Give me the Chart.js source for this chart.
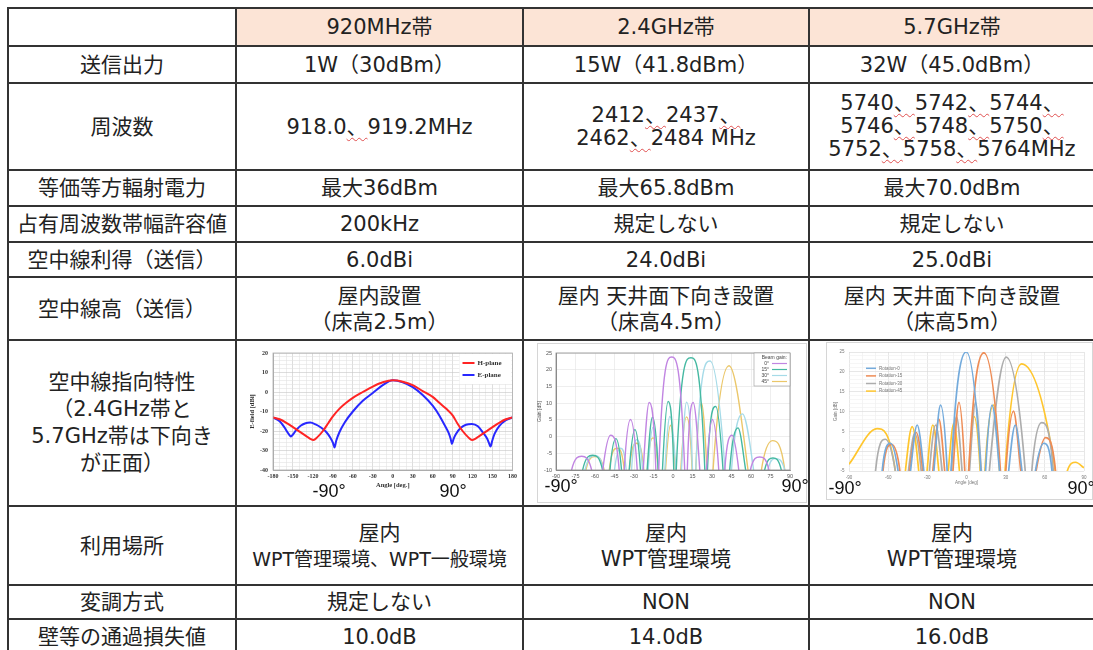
<!DOCTYPE html>
<html lang="ja">
<head>
<meta charset="utf-8">
<script src="https://cdn.jsdelivr.net/npm/chart.js@4.4.1/dist/chart.umd.min.js"></script>
<style>
html, body { margin: 0; padding: 0; background: #fff; overflow: hidden; width: 1093px; height: 650px; }
#tbl {
  position: absolute; left: 7px; top: 7px;
  display: grid; padding: 2px; gap: 2px; background: #333;
  grid-template-columns: 226px 285px 284px 284px;
  grid-template-rows: 36px 35px 85px 34px 34px 33px 61px 164px 77px 32px 33px;
  font-family: "DejaVu Sans", "Noto Sans CJK JP", sans-serif; font-size: 21px; color: #222;
}
#tbl > div { background: #fff; display: flex; align-items: center; justify-content: center; text-align: center; line-height: 26px; position: relative; white-space: nowrap; }
#tbl > div.h { background: #fce4d6; }
.f { line-height: 23px; }
.sp { text-decoration: underline wavy #e05050; text-decoration-thickness: 1px; text-underline-offset: 3px; }
.sm { font-size: 19px; }
.tall { line-height: 27px; }
.cv { position: absolute; }
.deg { position: absolute; font-family: "Liberation Sans", Arial, sans-serif; font-size: 18px; color: #111; transform: translate(-50%, -50%); white-space: nowrap; }
</style>
</head>
<body>
<div id="tbl">
  <div></div>
  <div class="h">920MHz帯</div>
  <div class="h">2.4GHz帯</div>
  <div class="h">5.7GHz帯</div>

  <div>送信出力</div>
  <div>1W（30dBm）</div>
  <div>15W（41.8dBm）</div>
  <div>32W（45.0dBm）</div>

  <div>周波数</div>
  <div><div>918.0<span class="sp">、</span>919.2MHz</div></div>
  <div><div class="f">2412<span class="sp">、</span>2437<span class="sp">、</span><br>2462<span class="sp">、</span>2484 MHz</div></div>
  <div><div class="f">5740<span class="sp">、</span>5742<span class="sp">、</span>5744<span class="sp">、</span><br>5746<span class="sp">、</span>5748<span class="sp">、</span>5750<span class="sp">、</span><br>5752<span class="sp">、</span>5758<span class="sp">、</span>5764MHz</div></div>

  <div>等価等方輻射電力</div>
  <div>最大36dBm</div>
  <div>最大65.8dBm</div>
  <div>最大70.0dBm</div>

  <div>占有周波数帯幅許容値</div>
  <div>200kHz</div>
  <div>規定しない</div>
  <div>規定しない</div>

  <div>空中線利得（送信）</div>
  <div>6.0dBi</div>
  <div>24.0dBi</div>
  <div>25.0dBi</div>

  <div>空中線高（送信）</div>
  <div><div>屋内設置<br>（床高2.5m）</div></div>
  <div><div>屋内 天井面下向き設置<br>（床高4.5m）</div></div>
  <div><div>屋内 天井面下向き設置<br>（床高5m）</div></div>

  <div><div class="tall">空中線指向特性<br>（2.4GHz帯と<br>5.7GHz帯は下向き<br>が正面）</div></div>
  <div><div class="cv" style="left:1px;top:2px;width:282px;height:160px"><canvas id="c1"></canvas></div></div>
  <div><div class="cv" style="left:13px;top:2px;width:270px;height:160px;box-shadow:inset 0 0 0 1px #d6d6d6"><canvas id="c2"></canvas></div></div>
  <div><div class="cv" style="left:16px;top:1px;width:267px;height:158px;box-shadow:inset 0 0 0 1px #d6d6d6"><canvas id="c3"></canvas></div></div>

  <div>利用場所</div>
  <div><div>屋内<br><span class="sm">WPT管理環境、WPT一般環境</span></div></div>
  <div><div>屋内<br>WPT管理環境</div></div>
  <div><div>屋内<br>WPT管理環境</div></div>

  <div>変調方式</div>
  <div>規定しない</div>
  <div>NON</div>
  <div>NON</div>

  <div>壁等の通過損失値</div>
  <div>10.0dB</div>
  <div>14.0dB</div>
  <div>16.0dB</div>
</div>

<div class="deg" style="left:329px;top:491px">-90°</div>
<div class="deg" style="left:453px;top:491px">90°</div>
<div class="deg" style="left:561px;top:486px">-90°</div>
<div class="deg" style="left:795px;top:486px">90°</div>
<div class="deg" style="left:845px;top:488px">-90°</div>
<div class="deg" style="left:1081px;top:488px">90°</div>

<script>
// 920MHz: E-field pattern [dBi] vs angle [deg]
const planeLabels = ['H-plane', 'E-plane'];
const hAngle = [-180,-170,-160,-150,-140,-130,-124,-119,-114,-105,-97,-90,-80,-70,-60,-45,-30,-15,0,15,30,45,60,70,80,90,97,105,114,119,124,130,140,150,160,170,180];
const hField = [-13,-14,-15.8,-18,-20.3,-22.6,-24,-24.6,-23.4,-20,-16,-12.5,-8.5,-5.5,-3,0,2.8,5,6,5.3,3.5,0.5,-2.5,-5.5,-8.5,-12,-16,-20,-23.4,-24.6,-24,-22.6,-20.3,-18,-15.8,-14,-13];
const eAngle = [-180,-170,-163,-158,-155,-153,-150,-145,-138,-131,-124,-116,-108,-100,-94,-90,-87.5,-85,-80,-72,-60,-45,-30,-15,0,15,30,45,60,70,78,84,87,89,91.5,95,102,110,119,128,136,142,145,147,149.5,153,160,170,180];
const eField = [-13,-15,-18,-20.8,-22.2,-22.8,-21.8,-19.5,-17.2,-16,-15.7,-16.6,-18.2,-20.5,-23.3,-26,-28.4,-25,-20.5,-15.5,-10,-4.5,-0.5,3.5,6,5,2.5,-1.5,-7,-12,-17,-21,-24,-26.6,-24,-21.5,-18.5,-16.8,-16.4,-17.6,-21,-24,-26.5,-28,-25,-21.5,-17.5,-14.5,-13];

// 2.4GHz: gain [dB] per beam direction (lobes, deep nulls fall below the axis)
const beamLabels = ['0°', '15°', '30°', '45°'];
const beam0Angle = [-80,-78,-70.3,-62.6,-58.3,-54,-48,-41.4,-39.5,-37.5,-32.7,-27.5,-25.2,-22.9,-18.3,-13.2,-12.1,-11,-1,9,10,11,15.5,20.6,23.2,25.7,30.3,35.2,37.5,39.8,45.4,50.6,55,59.5,66.7,73.8,76];
const beam0Gain = [-30,-10,-5.9,-10,-30,-10,0.4,-10,-30,-10,5.1,-10,-30,-10,10.2,-10,-30,-10,23.8,-10,-30,-10,10.2,-10,-30,-10,5.1,-10,-30,-10,0.4,-10,-30,-10,-6.1,-10,-30];
const beam15Angle = [-71.5,-69.5,-61.8,-54.2,-51.4,-48.5,-43.9,-39.6,-36.7,-33.7,-29.3,-25,-22.5,-19.9,-15.8,-11.4,-9.8,-8.1,-3.7,0.6,1.5,2.5,13.8,24.5,25.5,26.5,32.9,38.5,41,43.6,50,55.9,63.2,70.5,76.9,83.3,85.3];
const beam15Gain = [-30,-10,-5.6,-10,-30,-10,-0.6,-10,-30,-10,2.1,-10,-30,-10,5.8,-10,-30,-10,10.5,-10,-30,-10,23.6,-10,-30,-10,9,-10,-30,-10,2.6,-10,-30,-10,-6.4,-10,-30];
const beam30Angle = [-69.7,-67.7,-60,-53.6,-49.3,-45,-40.5,-36,-34,-31.9,-28,-23.4,-21.3,-19.1,-15.2,-11.1,-8.7,-6.3,-2.4,2.2,4.4,6.5,10.4,15,16.2,17.5,28.5,40,42.5,45,53.4,62,67.5,73,79,85.9,87.9];
const beam30Gain = [-30,-10,-5.7,-10,-30,-10,-3.5,-10,-30,-10,-0.9,-10,-30,-10,2.9,-10,-30,-10,6,-10,-30,-10,10.3,-10,-30,-10,22.6,-10,-30,-10,6.8,-10,-30,-10,-6.6,-10,-30];
const beam45Angle = [-69,-67,-60,-53,-51,-49,-43,-37.5,-35.5,-33.5,-28,-22.5,-21,-19.6,-15.2,-11.4,-8.6,-5.8,-2,1.9,4,6,10.4,14.7,16.1,17.5,21.9,26.2,28.5,30.8,43.1,57.7,62.9,68,76.5,86,88];
const beam45Gain = [-30,-10,-6,-10,-30,-10,-3.5,-10,-30,-10,-2,-10,-30,-10,-0.4,-10,-30,-10,3.4,-10,-30,-10,5.9,-10,-30,-10,10,-10,-30,-10,21.2,-10,-30,-10,-1.2,-10,-30];

// 5.7GHz: gain [dB] per steering angle
const rotLabels = ['Rotation-0', 'Rotation-15', 'Rotation-30', 'Rotation-45'];
const rot0Angle = [-66.6,-64.6,-58.2,-52.4,-47.6,-42.9,-37.8,-32.7,-28.9,-25,-19.9,-14.8,-13.3,-11.8,-0.2,11,12.8,14.6,19.6,25.3,28.8,32.3,37.4,42.5,47.6,52.8,59.2,65.5,67.5];
const rot0Gain = [-20,-5,2,-5,-20,-5,6.6,-5,-20,-5,11.6,-5,-20,-5,25,-5,-20,-5,11.6,-5,-20,-5,6.6,-5,-20,-5,2,-5,-20];
const rot15Angle = [-66,-64,-57.5,-51,-47.3,-43.5,-38.5,-33.5,-29.7,-25.8,-21.2,-16.7,-13.6,-10.4,-5.8,-1.3,0.2,1.7,13.3,26,28,30.1,36,41.6,47.5,53.3,60.5,68.2,70.2];
const rot15Gain = [-20,-5,1.7,-5,-20,-5,4.7,-5,-20,-5,8.1,-5,-20,-5,12.3,-5,-20,-5,24.8,-5,-20,-5,10.1,-5,-20,-5,3.4,-5,-20];
const rot30Angle = [-71.7,-69.7,-62.1,-54.5,-49.5,-44.5,-39.6,-34.7,-31.5,-28.4,-23.7,-18.7,-15.2,-11.7,-7.7,-3.4,-0.5,2.3,6.9,11.4,14.5,17.5,30.4,45,47.5,50,57.5,66.5,68.5];
const rot30Gain = [-20,-5,3,-5,-20,-5,4.5,-5,-20,-5,6.6,-5,-20,-5,8.7,-5,-20,-5,12.3,-5,-20,-5,23.7,-5,-20,-5,7.2,-5,-20];
const rot45Angle = [-90,-68.5,-54.5,-50.7,-46.8,-41.6,-36.6,-33.4,-30.2,-25.8,-21.2,-17.6,-14,-9.7,-5.4,-1.9,1.6,5.9,10.5,12.3,14.1,20.7,25.3,27.4,29.5,42.2,68,72.6,77.2,83.6,90];
const rot45Gain = [-3.3,5.7,-5,-20,-5,6.2,-5,-20,-5,6.6,-5,-20,-5,7,-5,-20,-5,8.7,-5,-20,-5,11.6,-5,-20,-5,22,-5,-20,-5,-2.8,-4.2];

const pts = (xs, ys) => xs.map((x, i) => ({x: x, y: ys[i]}));

// box round the plot area
const frame = {
  id: 'frame',
  afterDatasetsDraw(chart, args, o) {
    if (!o || !o.color) return;
    const {ctx, chartArea: a} = chart;
    ctx.save();
    ctx.strokeStyle = o.color;
    ctx.lineWidth = 0.8;
    ctx.strokeRect(a.left, a.top, a.right - a.left, a.bottom - a.top);
    ctx.restore();
  }
};

// legend drawn inside the plot area
const boxLegend = {
  id: 'boxLegend',
  afterDatasetsDraw(chart, args, o) {
    if (!o || !o.show) return;
    const {ctx, chartArea: a} = chart;
    const sets = chart.data.datasets;
    const rows = sets.length + (o.title ? 1 : 0);
    const h = rows * o.rowH + o.pad * 2;
    const x0 = o.side === 'left' ? a.left + o.dx : a.right - o.dx - o.width;
    const y0 = a.top + o.dy;
    ctx.save();
    if (o.fill) { ctx.fillStyle = o.fill; ctx.fillRect(x0, y0, o.width, h); }
    if (o.border) { ctx.strokeStyle = o.border; ctx.lineWidth = 0.6; ctx.strokeRect(x0, y0, o.width, h); }
    ctx.font = o.font;
    ctx.textBaseline = 'middle';
    let y = y0 + o.pad + o.rowH / 2;
    if (o.title) {
      ctx.fillStyle = o.color;
      ctx.textAlign = 'right';
      ctx.fillText(o.title, x0 + o.width - 3, y);
      y += o.rowH;
    }
    sets.forEach(ds => {
      let lx, tx;
      if (o.textFirst) {
        lx = x0 + o.width - 3 - o.lineLen; tx = lx - 3; ctx.textAlign = 'right';
      } else {
        lx = x0 + 3; tx = lx + o.lineLen + 3; ctx.textAlign = 'left';
      }
      ctx.strokeStyle = ds.borderColor;
      ctx.lineWidth = o.lineW;
      ctx.beginPath(); ctx.moveTo(lx, y); ctx.lineTo(lx + o.lineLen, y); ctx.stroke();
      ctx.fillStyle = o.color;
      ctx.fillText(ds.label, tx, y);
      y += o.rowH;
    });
    ctx.restore();
  }
};

const base = {
  responsive: true, maintainAspectRatio: false, animation: false,
  elements: {point: {radius: 0}, line: {cubicInterpolationMode: 'monotone'}},
};

// 920MHz
const serif = {family: 'Liberation Serif', size: 6, weight: 'bold'};
new Chart(document.getElementById('c1'), {
  type: 'line',
  data: {datasets: [
    {label: planeLabels[0], data: pts(hAngle, hField), borderColor: '#ff2424', borderWidth: 2},
    {label: planeLabels[1], data: pts(eAngle, eField), borderColor: '#2828ff', borderWidth: 2}
  ]},
  options: Object.assign({}, base, {
    layout: {padding: {top: 10, right: 7, left: 0, bottom: 0}},
    plugins: {
      legend: {display: false}, tooltip: {enabled: false},
      frame: {color: '#b0b0b0'},
      boxLegend: {show: true, side: 'right', dx: 1, dy: 1, width: 52, rowH: 12, pad: 3, lineLen: 12, lineW: 2,
        font: 'bold 7px "Liberation Serif"', color: '#333', fill: '#fff'}
    },
    scales: {
      x: {
        type: 'linear', min: -180, max: 180,
        afterFit: s => { s.height = 33; },
        ticks: {stepSize: 10, autoSkip: false, maxRotation: 0, padding: 3, font: serif, color: '#333',
          callback: v => v % 30 === 0 ? v : ''},
        grid: {color: c => (c.tick && c.tick.value % 30 === 0) ? '#c6c6c6' : '#e3e3e3', lineWidth: 0.6, drawTicks: false},
        border: {color: '#aaa'},
        title: {display: true, text: 'Angle [deg.]', font: {family: 'Liberation Serif', size: 6.5, weight: 'bold'}, color: '#333', padding: {top: 0, bottom: 14}}
      },
      y: {
        min: -40, max: 20,
        afterFit: s => { s.width = 35; },
        ticks: {stepSize: 2, autoSkip: false, padding: 5, font: serif, color: '#333',
          callback: v => v % 10 === 0 ? v : ''},
        grid: {color: c => (c.tick && c.tick.value % 10 === 0) ? '#c6c6c6' : '#e3e3e3', lineWidth: 0.6, drawTicks: false},
        border: {color: '#aaa'},
        title: {display: true, text: 'E-field [dBi]', font: {family: 'Liberation Serif', size: 6.5, weight: 'bold'}, color: '#333', padding: {top: 10, bottom: 0}}
      }
    }
  }),
  plugins: [frame, boxLegend]
});

// 2.4GHz
const small = {family: 'Liberation Sans', size: 5.5};
new Chart(document.getElementById('c2'), {
  type: 'line',
  data: {datasets: [
    {label: beamLabels[0], data: pts(beam0Angle, beam0Gain), borderColor: '#c185e2', borderWidth: 1.4},
    {label: beamLabels[1], data: pts(beam15Angle, beam15Gain), borderColor: '#45b9a2', borderWidth: 1.4},
    {label: beamLabels[2], data: pts(beam30Angle, beam30Gain), borderColor: '#a6dbe8', borderWidth: 1.4},
    {label: beamLabels[3], data: pts(beam45Angle, beam45Gain), borderColor: '#ebc76a', borderWidth: 1.4}
  ]},
  options: Object.assign({}, base, {
    layout: {padding: {top: 10, right: 17, left: 0, bottom: 0}},
    plugins: {
      legend: {display: false}, tooltip: {enabled: false},
      frame: {color: '#8a8a8a'},
      boxLegend: {show: true, side: 'right', dx: 0, dy: 0, width: 36, rowH: 6, pad: 1.5, lineLen: 15, lineW: 1.2,
        textFirst: true, title: 'Beam gain:', font: '5px "Liberation Sans"', color: '#444', fill: '#fff', border: '#999'}
    },
    scales: {
      x: {
        type: 'linear', min: -90, max: 90,
        afterFit: s => { s.height = 33; },
        ticks: {stepSize: 15, autoSkip: false, maxRotation: 0, padding: 3, font: small, color: '#555'},
        grid: {color: '#e2e2e2', lineWidth: 0.6, drawTicks: false},
        border: {color: '#8a8a8a'}
      },
      y: {
        min: -10, max: 25,
        afterFit: s => { s.width = 19; },
        ticks: {stepSize: 5, autoSkip: false, padding: 4, font: small, color: '#555'},
        grid: {color: '#e2e2e2', lineWidth: 0.6, drawTicks: false},
        border: {color: '#8a8a8a'},
        title: {display: true, text: 'Gain [dB]', font: {family: 'Liberation Sans', size: 5}, color: '#555', padding: {top: 0, bottom: 0}}
      }
    }
  }),
  plugins: [frame, boxLegend]
});

// 5.7GHz
const tiny = {family: 'Liberation Sans', size: 4.5};
new Chart(document.getElementById('c3'), {
  type: 'line',
  data: {datasets: [
    {label: rotLabels[0], data: pts(rot0Angle, rot0Gain), borderColor: '#74abdc', borderWidth: 1.7},
    {label: rotLabels[1], data: pts(rot15Angle, rot15Gain), borderColor: '#ee8c55', borderWidth: 1.7},
    {label: rotLabels[2], data: pts(rot30Angle, rot30Gain), borderColor: '#adadad', borderWidth: 1.7},
    {label: rotLabels[3], data: pts(rot45Angle, rot45Gain), borderColor: '#ffc62e', borderWidth: 1.7}
  ]},
  options: Object.assign({}, base, {
    layout: {padding: {top: 10, right: 9, left: 0, bottom: 0}},
    plugins: {
      legend: {display: false}, tooltip: {enabled: false},
      boxLegend: {show: true, side: 'left', dx: 14, dy: 12.5, width: 40, rowH: 7.6, pad: 0, lineLen: 10, lineW: 1.5,
        font: '4.5px "Liberation Sans"', color: '#777'}
    },
    scales: {
      x: {
        type: 'linear', min: -90, max: 90,
        afterFit: s => { s.height = 29; },
        ticks: {stepSize: 10, autoSkip: false, maxRotation: 0, padding: 4, font: tiny, color: '#777',
          callback: v => v % 30 === 0 ? v : ''},
        grid: {color: c => (c.tick && c.tick.value % 30 === 0) ? '#d6d6d6' : '#ededed', lineWidth: 0.6, drawTicks: false},
        border: {display: false},
        title: {display: true, text: 'Angle [deg]', font: tiny, color: '#777', padding: {top: 0, bottom: 14.7}}
      },
      y: {
        min: -5, max: 25,
        afterFit: s => { s.width = 23; },
        ticks: {stepSize: 1, autoSkip: false, padding: 4.5, font: tiny, color: '#777',
          callback: v => v % 5 === 0 ? v : ''},
        grid: {color: c => (c.tick && c.tick.value % 5 === 0) ? '#d6d6d6' : '#f0f0f0', lineWidth: 0.6, drawTicks: false},
        border: {display: false},
        title: {display: true, text: 'Gain [dB]', font: tiny, color: '#777', padding: {top: 7, bottom: 0}}
      }
    }
  }),
  plugins: [frame, boxLegend]
});
</script>
</body>
</html>
